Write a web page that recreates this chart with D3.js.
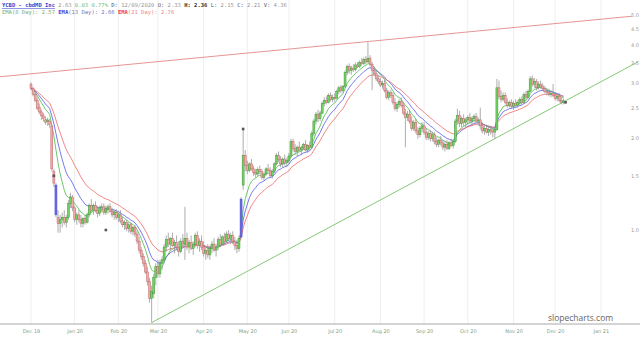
<!DOCTYPE html>
<meta charset="utf-8">
<style>
    body { margin: 0; background: #fff; }
    svg { display: block; font-family: "DejaVu Sans", sans-serif; }
</style>
<body>
<script src="https://cdn.jsdelivr.net/npm/d3@7"></script>
<script>
    /* size and placement */
    var w = 640;
    var h = 338;
    var axisY = 324;

    /* daily prices, one per trading day from Dec 2 2019 */
    var opens = [
        2.98,2.88,2.76,2.64,2.50,2.42,2.35,2.28,2.25,2.26,2.18,1.55,1.40,1.10,1.05,1.08,1.10,1.06,1.10,1.22,1.28,
        1.18,1.08,1.12,1.08,1.05,1.09,1.06,1.12,1.20,1.16,1.20,1.16,1.13,1.18,1.19,1.14,1.17,1.19,1.15,1.12,1.14,
        1.10,1.12,1.07,1.04,1.06,1.01,1.04,0.99,1.02,0.97,0.92,0.86,0.82,0.78,0.73,0.68,0.60,0.62,0.70,
        0.76,0.72,0.78,0.80,0.88,0.93,0.90,0.94,0.89,0.91,0.88,0.85,0.92,0.90,0.94,0.88,0.91,0.87,0.90,0.96,0.89,0.92,
        0.88,0.84,0.86,0.83,0.87,0.90,0.86,0.88,0.93,0.90,0.95,0.92,0.97,0.94,0.96,0.92,0.89,0.87,0.95,1.40,1.75,
        1.62,1.56,1.64,1.58,1.54,1.52,1.57,1.55,1.48,1.52,1.58,1.56,1.50,1.55,1.64,1.75,1.70,1.64,1.70,1.66,
        1.68,1.74,1.94,1.84,1.80,1.86,1.82,1.85,1.90,1.82,1.88,1.86,2.06,2.26,2.38,2.30,2.40,2.58,2.64,2.60,2.74,2.66,
        2.70,2.68,2.82,2.90,2.84,2.93,3.25,3.40,3.30,3.36,3.32,3.44,3.40,3.50,3.48,3.58,3.52,3.62,3.46,3.30,3.22,3.10,
        3.04,2.96,3.00,2.84,2.70,2.80,2.74,2.60,2.48,2.56,2.62,2.54,2.40,2.32,2.38,2.26,2.14,2.24,2.10,2.04,2.14,
        2.18,2.08,2.00,2.06,1.98,2.04,1.94,1.90,1.96,1.92,1.86,1.90,1.84,1.92,1.88,1.94,2.26,2.36,2.22,2.30,2.24,
        2.28,2.32,2.26,2.30,2.34,2.26,2.28,2.18,2.10,2.14,2.08,2.12,2.10,2.08,2.12,2.90,2.72,2.66,2.74,2.60,2.54,2.60,
        2.52,2.58,2.54,2.60,2.66,2.60,2.76,2.70,2.82,3.10,2.98,3.04,2.90,2.98,2.94,2.88,2.82,2.80,2.76,2.78,
        2.74,2.68,2.72,2.64,2.60
    ];
    var highs = [
        3.02,2.92,2.80,2.70,2.58,2.46,2.40,2.34,2.32,2.30,2.20,1.58,1.42,1.16,1.12,1.14,1.16,1.12,1.25,1.32,1.30,
        1.20,1.14,1.16,1.12,1.10,1.12,1.14,1.22,1.26,1.22,1.24,1.20,1.20,1.22,1.22,1.20,1.21,1.22,1.18,1.16,1.17,
        1.14,1.16,1.10,1.08,1.08,1.06,1.06,1.03,1.04,0.99,0.95,0.88,0.84,0.80,0.76,0.70,0.66,0.72,0.78,
        0.80,0.80,0.82,0.90,0.96,0.98,0.95,0.98,0.93,0.96,0.92,0.94,0.97,1.19,0.98,0.93,0.96,0.92,0.98,0.99,0.94,0.96,
        0.92,0.88,0.90,0.89,0.92,0.94,0.90,0.95,0.97,0.96,0.98,0.99,1.00,0.98,0.99,0.95,0.93,0.96,1.28,2.15,1.82,
        1.68,1.66,1.70,1.62,1.58,1.60,1.62,1.58,1.54,1.60,1.64,1.60,1.58,1.66,1.78,1.80,1.74,1.72,1.76,1.72,
        1.78,1.98,1.98,1.90,1.88,1.94,1.88,1.92,1.96,1.90,1.94,2.10,2.30,2.42,2.46,2.44,2.62,2.70,2.72,2.78,2.80,2.76,
        2.78,2.86,2.94,2.96,2.96,3.30,3.45,3.48,3.42,3.46,3.50,3.52,3.56,3.62,3.64,3.68,4.08,3.70,3.52,3.40,3.30,3.18,
        3.12,3.06,3.08,2.90,2.84,2.86,2.80,2.68,2.60,2.66,2.70,2.60,2.48,2.44,2.46,2.34,2.28,2.30,2.16,2.18,2.24,
        2.24,2.14,2.10,2.12,2.08,2.08,2.00,1.98,2.02,1.96,1.94,1.96,1.94,1.98,1.96,2.30,2.48,2.44,2.34,2.38,2.32,
        2.36,2.40,2.34,2.38,2.40,2.32,2.50,2.24,2.18,2.20,2.16,2.18,2.14,2.14,3.10,3.06,2.84,2.80,2.80,2.68,2.64,2.66,
        2.62,2.66,2.64,2.70,2.72,2.80,2.84,2.86,3.16,3.18,3.12,3.10,3.04,3.06,3.00,2.94,2.90,2.88,2.84,2.98,
        2.80,2.76,2.78,2.70,2.68
    ];
    var lows = [
        2.85,2.72,2.60,2.45,2.38,2.28,2.25,2.20,2.18,2.15,1.55,1.38,1.10,0.98,0.98,1.02,1.04,1.02,1.08,1.18,1.15,
        1.06,1.04,1.06,1.02,1.02,1.04,1.05,1.10,1.14,1.12,1.14,1.10,1.11,1.14,1.12,1.12,1.13,1.14,1.10,1.08,1.08,
        1.06,1.05,1.02,1.00,0.99,0.98,0.97,0.96,0.95,0.90,0.84,0.80,0.76,0.72,0.66,0.58,0.50,0.60,0.66,
        0.70,0.70,0.74,0.78,0.85,0.88,0.86,0.88,0.84,0.86,0.82,0.84,0.88,0.80,0.86,0.84,0.86,0.83,0.88,0.87,0.85,0.86,
        0.82,0.80,0.81,0.80,0.84,0.85,0.82,0.86,0.88,0.89,0.90,0.91,0.92,0.90,0.90,0.86,0.84,0.85,0.94,1.35,1.55,
        1.52,1.54,1.56,1.50,1.48,1.50,1.52,1.46,1.45,1.50,1.54,1.48,1.47,1.53,1.62,1.66,1.60,1.60,1.62,1.60,
        1.64,1.72,1.80,1.76,1.74,1.80,1.76,1.82,1.80,1.78,1.82,1.84,2.02,2.20,2.24,2.26,2.38,2.52,2.56,2.58,2.62,2.60,
        2.62,2.66,2.76,2.78,2.80,2.90,3.18,3.22,3.20,3.26,3.28,3.36,3.36,3.42,3.44,3.46,3.50,3.40,2.85,3.16,3.05,2.98,
        2.92,2.88,2.80,2.66,2.64,2.68,2.56,2.44,2.42,2.50,2.50,2.36,1.86,2.26,2.22,2.10,2.10,2.06,1.98,2.00,2.08,
        2.04,1.96,1.96,1.94,1.94,1.90,1.86,1.86,1.88,1.82,1.80,1.82,1.82,1.86,1.84,1.92,2.20,2.16,2.16,2.18,2.16,
        2.20,2.22,2.18,2.24,2.22,2.18,2.12,2.06,2.04,2.06,2.02,2.04,2.00,1.98,2.10,2.66,2.60,2.62,2.56,2.50,2.50,2.48,
        2.46,2.50,2.50,2.54,2.56,2.58,2.66,2.68,2.80,2.92,2.90,2.84,2.86,2.88,2.84,2.78,2.74,2.72,2.70,2.70,
        2.64,2.62,2.60,2.56,2.56
    ];
    var closes = [
        2.88,2.76,2.64,2.48,2.42,2.35,2.30,2.24,2.28,2.20,1.58,1.42,1.12,1.05,1.08,1.10,1.06,1.10,1.22,1.28,1.18,
        1.08,1.12,1.08,1.05,1.09,1.06,1.12,1.20,1.16,1.20,1.16,1.13,1.18,1.19,1.14,1.17,1.19,1.15,1.12,1.14,1.10,
        1.12,1.07,1.04,1.06,1.01,1.04,0.99,1.02,0.97,0.92,0.86,0.82,0.78,0.73,0.68,0.60,0.63,0.70,0.76,
        0.72,0.78,0.80,0.88,0.93,0.90,0.94,0.89,0.91,0.88,0.85,0.92,0.90,0.94,0.88,0.91,0.87,0.90,0.96,0.89,0.92,0.88,
        0.84,0.86,0.83,0.87,0.90,0.86,0.88,0.93,0.90,0.95,0.92,0.97,0.94,0.96,0.92,0.89,0.87,0.94,1.26,1.75,1.62,
        1.56,1.64,1.58,1.54,1.52,1.57,1.55,1.48,1.52,1.58,1.56,1.50,1.55,1.64,1.75,1.70,1.64,1.70,1.66,1.68,
        1.74,1.94,1.84,1.80,1.86,1.82,1.85,1.90,1.82,1.88,1.86,2.06,2.26,2.38,2.30,2.40,2.58,2.64,2.60,2.74,2.66,2.70,
        2.68,2.82,2.90,2.84,2.93,3.25,3.40,3.30,3.36,3.32,3.44,3.40,3.50,3.48,3.58,3.52,3.62,3.46,3.30,3.22,3.10,3.04,
        2.96,3.00,2.84,2.70,2.80,2.74,2.60,2.48,2.56,2.62,2.54,2.40,2.32,2.38,2.26,2.14,2.24,2.10,2.04,2.14,2.18,
        2.08,2.00,2.06,1.98,2.04,1.94,1.90,1.96,1.92,1.86,1.90,1.84,1.92,1.88,1.94,2.26,2.36,2.22,2.30,2.24,2.28,
        2.32,2.26,2.30,2.34,2.26,2.28,2.18,2.10,2.14,2.08,2.12,2.10,2.08,2.12,2.90,2.72,2.66,2.74,2.60,2.54,2.60,2.52,
        2.58,2.54,2.60,2.66,2.60,2.76,2.70,2.82,3.10,2.98,3.04,2.90,2.98,2.94,2.88,2.82,2.80,2.76,2.78,2.74,
        2.68,2.72,2.64,2.60,2.63
    ];

    /* candles drawn in blue, small markers, trendline anchors (day index, price) */
    var blueDays = [12, 101];
    var markers = [{ i: 11, p: 1.50 }, { i: 36, p: 1.00 }, { i: 102, p: 2.13 }, { i: 257, p: 2.60 }];
    var redTrend = [{ i: 0, p: 3.22 }, { i: 162, p: 4.10 }];
    var greenTrend = [{ i: 58, p: 0.50 }, { i: 256, p: 2.61 }];

    /* axis ticks */
    var yTicks = [1.0, 1.5, 2.0, 2.5, 3.0, 3.5, 4.0, 4.5, 5.0];
    var holidays = ["2019-12-25", "2020-01-01", "2020-01-20", "2020-02-17", "2020-04-10", "2020-05-25",
        "2020-07-03", "2020-09-07", "2020-11-26", "2020-12-25", "2021-01-01", "2021-01-18"];

    /* EMA periods and colours */
    var emaPeriods = [8, 13, 21];
    var emaColors = ["#44bb44", "#5555ee", "#ee6666"];

    /* trading calendar (weekdays minus holidays), runs past the data for the axis */
    var fmtDay = d3.timeFormat("%Y-%m-%d");
    var days = [];
    var d = new Date(2019, 11, 2);
    while (d <= new Date(2021, 0, 29)) {
        if (d.getDay() != 0 && d.getDay() != 6 && holidays.indexOf(fmtDay(d)) < 0) {
            days.push(new Date(d));
        }
        d.setDate(d.getDate() + 1);
    }

    var monthStarts = [];
    days.forEach(function (day, i) {
        if (i == 0 || day.getMonth() != days[i - 1].getMonth()) monthStarts.push(i);
    });

    var data = closes.map(function (c, i) {
        return { i: i, o: opens[i], h: highs[i], l: lows[i], c: c };
    });

    /* scales */
    var xScale = d3.scaleLinear()
        .domain([-14.9, 292.8])
        .range([0, w]);

    var yScale = d3.scaleLog()
        .domain([1, 5])
        .range([230, 15]);

    var svg = d3.select("body").append("svg")
        .attr("width", w)
        .attr("height", h);

    /* vertical grid */
    svg.append("g")
        .selectAll("line")
        .data(monthStarts)
        .enter()
        .append("line")
        .attr("x1", function (i) { return xScale(i); })
        .attr("x2", function (i) { return xScale(i); })
        .attr("y1", 0)
        .attr("y2", axisY)
        .attr("stroke", "#eeeeee")
        .attr("stroke-width", 1);

    /* trendlines, extended across the plot */
    function trendAt(t, i) {
        var a = t[0], b = t[1];
        return a.p * Math.pow(b.p / a.p, (i - a.i) / (b.i - a.i));
    }
    function drawTrend(t, i0, i1, color) {
        svg.append("line")
            .attr("x1", xScale(i0))
            .attr("y1", yScale(trendAt(t, i0)))
            .attr("x2", xScale(i1))
            .attr("y2", yScale(trendAt(t, i1)))
            .attr("stroke", color)
            .attr("stroke-width", 0.8);
    }
    drawTrend(redTrend, -14.9, 289, "#e07a7a");
    drawTrend(greenTrend, 58, 292, "#66bb55");

    /* EMAs */
    emaPeriods.forEach(function (n, k) {
        var a = 2 / (n + 1);
        var e = closes[0];
        var pts = closes.map(function (c, i) {
            e = i == 0 ? c : a * c + (1 - a) * e;
            return [i, e];
        });
        var line = d3.line()
            .x(function (p) { return xScale(p[0]); })
            .y(function (p) { return yScale(p[1]); });
        svg.append("path")
            .attr("d", line(pts))
            .attr("fill", "none")
            .attr("stroke", emaColors[k])
            .attr("stroke-width", 0.8);
    });

    /* candles */
    var candles = svg.append("g").selectAll("g")
        .data(data)
        .enter()
        .append("g");

    candles.append("line")
        .attr("x1", function (d) { return xScale(d.i); })
        .attr("x2", function (d) { return xScale(d.i); })
        .attr("y1", function (d) { return yScale(d.h); })
        .attr("y2", function (d) { return yScale(d.l); })
        .attr("stroke", "#8a8a8a")
        .attr("stroke-width", 0.7);

    candles.append("rect")
        .attr("x", function (d) { return xScale(d.i) - 1; })
        .attr("width", 2)
        .attr("y", function (d) { return yScale(Math.max(d.o, d.c)); })
        .attr("height", function (d) { return Math.max(0.8, Math.abs(yScale(d.o) - yScale(d.c))); })
        .attr("fill", function (d) {
            if (blueDays.indexOf(d.i) >= 0) return "#6d6fe6";
            return d.c >= d.o ? "#72d262" : "#f2a8a8";
        })
        .attr("stroke", function (d) {
            if (blueDays.indexOf(d.i) >= 0) return "#4446c8";
            return d.c >= d.o ? "#3f9a38" : "#c26a6a";
        })
        .attr("stroke-width", 0.5);

    /* small markers */
    svg.append("g").selectAll("rect")
        .data(markers)
        .enter()
        .append("rect")
        .attr("x", function (d) { return xScale(d.i) - 1.3; })
        .attr("y", function (d) { return yScale(d.p) - 1.3; })
        .attr("width", 2.6)
        .attr("height", 2.6)
        .attr("fill", "#555");

    /* X axis */
    var fmtMonth = d3.timeFormat("%b %y");
    var xAxis = d3.axisBottom(xScale)
        .tickValues(monthStarts)
        .tickFormat(function (i) { return fmtMonth(days[i]); })
        .tickSize(0)
        .tickPadding(5);

    var gx = svg.append("g")
        .attr("transform", "translate(0," + axisY + ")")
        .call(xAxis);
    gx.select(".domain").remove();
    gx.selectAll("text")
        .attr("font-size", 5)
        .attr("font-family", "DejaVu Sans")
        .attr("fill", "#7f9f7f");

    svg.append("line")
        .attr("x1", 0).attr("x2", w)
        .attr("y1", axisY).attr("y2", axisY)
        .attr("stroke", "#a8a8a8")
        .attr("stroke-width", 1);

    /* Y axis on the right */
    var yAxis = d3.axisRight(yScale)
        .tickValues(yTicks)
        .tickFormat(d3.format(".1f"))
        .tickSize(0)
        .tickPadding(2);

    var gy = svg.append("g")
        .attr("transform", "translate(629,0)")
        .call(yAxis);
    gy.select(".domain").remove();
    gy.selectAll("text")
        .attr("font-size", 5)
        .attr("font-family", "DejaVu Sans")
        .attr("fill", "#999");

    /* header */
    var mono = "DejaVu Sans Mono";
    var t1 = svg.append("text")
        .attr("x", 2).attr("y", 7)
        .attr("font-family", mono)
        .attr("font-size", 5.5)
        .attr("fill", "#999");
    t1.append("tspan").text("YCBD - cbdMD Inc").attr("fill", "#3344cc")
        .attr("font-weight", "bold").attr("text-decoration", "underline");
    t1.append("tspan").text(" 2.63");
    t1.append("tspan").text(" 0.03 0.77%").attr("fill", "#77bb77");
    t1.append("tspan").text(" D:").attr("fill", "#555");
    t1.append("tspan").text(" 12/09/2020");
    t1.append("tspan").text(" O:").attr("fill", "#555");
    t1.append("tspan").text(" 2.33");
    t1.append("tspan").text(" H: 2.36").attr("fill", "#333").attr("font-weight", "bold");
    t1.append("tspan").text(" L:").attr("fill", "#555");
    t1.append("tspan").text(" 2.15");
    t1.append("tspan").text(" C:").attr("fill", "#555");
    t1.append("tspan").text(" 2.21");
    t1.append("tspan").text(" V:").attr("fill", "#555");
    t1.append("tspan").text(" 4.36");

    var t2 = svg.append("text")
        .attr("x", 2).attr("y", 14)
        .attr("font-family", mono)
        .attr("font-size", 5.5);
    t2.append("tspan").text("EMA(8 Day): 2.57").attr("fill", "#77aa77");
    t2.append("tspan").text(" EMA").attr("fill", "#4444dd").attr("font-weight", "bold");
    t2.append("tspan").text("(13 Day): 2.66").attr("fill", "#7777bb");
    t2.append("tspan").text(" EMA").attr("fill", "#ee4444").attr("font-weight", "bold");
    t2.append("tspan").text("(21 Day): 2.76").attr("fill", "#ee8888");

    /* watermark */
    svg.append("text")
        .attr("x", 548).attr("y", 321)
        .attr("font-family", "Open Sans")
        .attr("font-size", 8.5)
        .attr("fill", "#666")
        .text("slopecharts.com");
</script>
</body>
